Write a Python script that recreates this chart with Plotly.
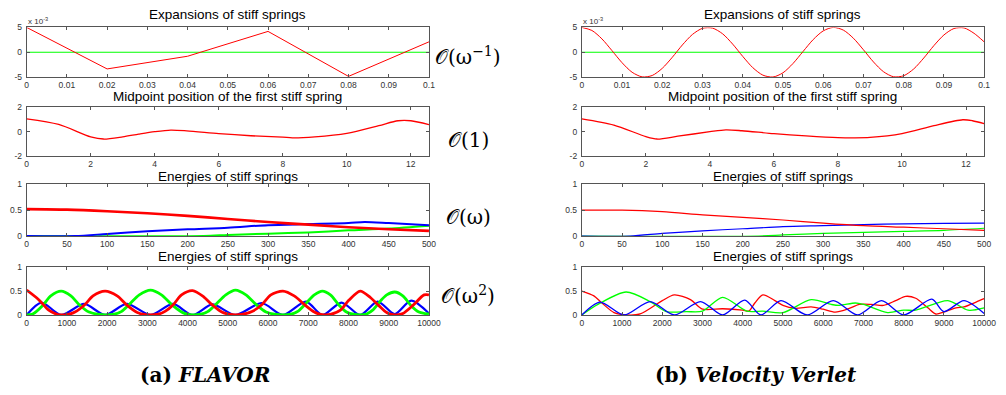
import plotly.graph_objects as go

W, H = 1006, 395

# ---------------- data ----------------
# Row 1: expansions of stiff springs (units of 1e-3)
flavor_exp_t = [0, 0.02, 0.04, 0.06, 0.08, 0.1]
flavor_exp_v = [5.0, -3.35, -0.8, 4.2, -4.85, 2.1]
vv_exp_t = [0, 0.0025, 0.005, 0.0075, 0.01, 0.0125, 0.015, 0.0175, 0.02, 0.0225,
            0.025, 0.0275, 0.03, 0.0325, 0.035, 0.0375, 0.04, 0.0425, 0.045, 0.0475,
            0.05, 0.0525, 0.055, 0.0575, 0.06, 0.0625, 0.065, 0.0675, 0.07, 0.0725,
            0.075, 0.0775, 0.08, 0.0825, 0.085, 0.0875, 0.09, 0.0925, 0.095, 0.0975, 0.1]
vv_exp_v = [5.0, 4.39, 2.69, 0.33, -2.10, -4.02, -4.95, -4.67, -3.23, -1.00,
            1.48, 3.59, 4.82, 4.86, 3.71, 1.64, -0.83, -3.10, -4.60, -4.98,
            -4.13, -2.25, 0.17, 2.55, 4.30, 5.0, 4.46, 2.83, 0.50, -1.95,
            -3.92, -4.93, -4.72, -3.35, -1.15, 1.33, 3.48, 4.78, 4.90, 3.81, 2.1]
zero_line_t = [0, 0.1]
zero_line_v = [0, 0]

# Row 2: midpoint position of the first stiff spring
flavor_mid_t = [0, 1, 2, 2.4, 3, 3.5, 4, 4.5, 5, 6, 7, 8, 8.3, 9, 10, 11, 11.6, 12, 12.566]
flavor_mid_v = [1.06, 0.6, -0.42, -0.6, -0.42, -0.2, 0.0, 0.13, 0.07, -0.15, -0.33,
                -0.45, -0.5, -0.42, -0.13, 0.5, 0.9, 0.9, 0.58]
vv_mid_t = [0, 1, 2, 2.35, 3, 4, 4.5, 5, 6, 7, 8, 8.5, 9, 10, 11, 11.9, 12.2, 12.566]
vv_mid_v = [1.06, 0.55, -0.4, -0.6, -0.37, 0.0, 0.15, 0.08, -0.16, -0.34, -0.48,
            -0.5, -0.47, -0.16, 0.5, 0.98, 0.9, 0.66]

# Row 3: energies, t in [0, 500]
flavor_e3_red_t = [0, 50, 100, 150, 200, 250, 300, 350, 400, 450, 500]
flavor_e3_red = [0.52, 0.51, 0.48, 0.44, 0.39, 0.33, 0.27, 0.22, 0.17, 0.13, 0.1]
flavor_e3_blue_t = [0, 60, 100, 150, 200, 250, 300, 350, 400, 420, 450, 500]
flavor_e3_blue = [0, 0, 0.04, 0.09, 0.13, 0.16, 0.21, 0.23, 0.25, 0.27, 0.25, 0.21]
flavor_e3_green_t = [0, 220, 250, 300, 350, 400, 450, 500]
flavor_e3_green = [0, 0, 0.02, 0.045, 0.07, 0.11, 0.145, 0.2]

vv_e3_red_t = [0, 50, 100, 150, 200, 250, 300, 350, 400, 450, 500]
vv_e3_red = [0.5, 0.5, 0.47, 0.41, 0.36, 0.31, 0.25, 0.2, 0.17, 0.14, 0.11]
vv_e3_blue_t = [0, 60, 100, 150, 200, 250, 300, 350, 400, 450, 500]
vv_e3_blue = [0, 0, 0.05, 0.1, 0.14, 0.18, 0.2, 0.22, 0.235, 0.245, 0.25]
vv_e3_green_t = [0, 220, 250, 300, 350, 400, 450, 500]
vv_e3_green = [0, 0, 0.02, 0.05, 0.07, 0.09, 0.11, 0.15]

# Row 4: energies, t in [0, 10000]
flavor_e4_red_t = [0, 300, 550, 750, 860, 1000, 1200, 1450, 1650, 1950, 2250, 2500, 2750,
                   2950, 3080, 3250, 3450, 3650, 3850, 4125, 4400, 4600, 4850, 5050,
                   5190, 5350, 5600, 5850, 6070, 6370, 6650, 6900, 7150, 7300, 7400,
                   7550, 7800, 8000, 8290, 8550, 8750, 8950, 9100, 9200, 9350, 9600,
                   9880, 10000]
flavor_e4_red = [0.52, 0.32, 0.1, 0.015, 0.0, 0.005, 0.06, 0.22, 0.4, 0.5, 0.4, 0.2,
                 0.05, 0.005, 0.0, 0.01, 0.08, 0.22, 0.42, 0.51, 0.38, 0.22, 0.06,
                 0.01, 0.0, 0.01, 0.07, 0.22, 0.42, 0.5, 0.4, 0.22, 0.06, 0.01, 0.0,
                 0.01, 0.1, 0.3, 0.5, 0.36, 0.2, 0.05, 0.005, 0.0, 0.03, 0.2,
                 0.42, 0.42]
flavor_e4_green_t = [0, 150, 400, 600, 858, 1100, 1300, 1550, 1800, 1950, 2150, 2350,
                     2550, 2800, 3080, 3350, 3600, 3850, 4000, 4125, 4300, 4500, 4700,
                     4950, 5190, 5450, 5700, 5950, 6200, 6370, 6550, 6750, 6950, 7150,
                     7350, 7550, 7750, 7950, 8150, 8290, 8450, 8600, 8800, 8950, 9150,
                     9350, 9550, 9750, 9900, 10000]
flavor_e4_green = [0.0, 0.02, 0.2, 0.4, 0.5, 0.4, 0.22, 0.06, 0.01, 0.0, 0.01, 0.07,
                   0.22, 0.42, 0.52, 0.42, 0.22, 0.06, 0.01, 0.0, 0.01, 0.07, 0.22,
                   0.42, 0.52, 0.42, 0.22, 0.06, 0.01, 0.0, 0.01, 0.08, 0.25, 0.42,
                   0.5, 0.42, 0.22, 0.06, 0.01, 0.0, 0.02, 0.1, 0.3, 0.42, 0.48,
                   0.4, 0.2, 0.06, 0.03, 0.02]
flavor_e4_blue_t = [0, 368, 858, 1430, 1950, 2490, 3080, 3635, 4125, 4615, 5190, 5841,
                    6370, 6944, 7350, 7826, 8290, 8725, 9150, 9559, 10000]
flavor_e4_blue = [0.0, 0.26, 0.0, 0.23, 0.0, 0.23, 0.0, 0.23, 0.0, 0.22, 0.0, 0.25,
                  0.0, 0.28, 0.0, 0.26, 0.0, 0.28, 0.02, 0.3, 0.03]

vv_e4_red_t = [0, 300, 500, 800, 1100, 1450, 2000, 2300, 2700, 3000, 3500, 4000, 4150,
               4300, 4500, 4800, 5000, 5300, 5700, 6000, 6300, 6600, 6900, 7200, 7500,
               7800, 8050, 8300, 8600, 8800, 9000, 9300, 9500, 9800, 10000]
vv_e4_red = [0.5, 0.4, 0.25, 0.05, 0.0, 0.02, 0.3, 0.42, 0.32, 0.12, 0.13, 0.1, 0.08,
             0.25, 0.42, 0.3, 0.2, 0.14, 0.17, 0.12, 0.06, 0.12, 0.22, 0.22, 0.2,
             0.3, 0.39, 0.35, 0.15, 0.02, 0.06, 0.15, 0.17, 0.27, 0.34]
vv_e4_green_t = [0, 400, 1100, 1700, 2100, 2600, 3000, 3500, 4100, 4500, 5000, 5700,
                 6200, 6400, 6800, 7000, 7600, 8000, 8300, 9100, 9600, 10000]
vv_e4_green = [0.0, 0.22, 0.48, 0.28, 0.07, 0.07, 0.08, 0.37, 0.08, 0.08, 0.05, 0.32,
               0.22, 0.2, 0.25, 0.22, 0.05, 0.1, 0.1, 0.3, 0.1, 0.15]
vv_e4_blue_t = [0, 450, 1050, 1700, 2300, 2950, 3500, 4050, 4450, 4950, 5600, 6250,
                6850, 7450, 8000, 8700, 9000, 9500, 10000]
vv_e4_blue = [0.0, 0.27, 0.0, 0.28, 0.0, 0.28, 0.0, 0.31, 0.0, 0.3, 0.0, 0.3,
              0.0, 0.3, 0.0, 0.33, 0.07, 0.3, 0.03]

# ticks
exp_ticks = [0, 0.01, 0.02, 0.03, 0.04, 0.05, 0.06, 0.07, 0.08, 0.09, 0.1]
exp_ticktext = ["0", "0.01", "0.02", "0.03", "0.04", "0.05", "0.06", "0.07", "0.08", "0.09", "0.1"]
mid_ticks = [0, 2, 4, 6, 8, 10, 12]
e3_ticks = [0, 50, 100, 150, 200, 250, 300, 350, 400, 450, 500]
e4_ticks = [0, 1000, 2000, 3000, 4000, 5000, 6000, 7000, 8000, 9000, 10000]
exp_yticks = [-5, 0, 5]
mid_yticks = [-2, 0, 2]
e_yticks = [0, 0.5, 1]
e_yticktext = ["0", "0.5", "1"]

titles = ["Expansions of stiff springs", "Midpoint position of the first stiff spring",
          "Energies of stiff springs", "Energies of stiff springs"]
order_labels = ["𝒪(ω<sup>−1</sup>)", "𝒪(1)", "𝒪(ω)", "𝒪(ω<sup>2</sup>)"]
captions = ["<b>(a) <i>FLAVOR</i></b>", "<b>(b) <i>Velocity Verlet</i></b>"]

RED, GREEN, BLUE = "#ff0000", "#00ff00", "#0000ff"

# ---------------- layout geometry (pixels) ----------------
col_x = [(25, 433), (588, 996)]
row_y = [(23, 74), (105, 155), (184, 237), (269, 318)]
title_y = [10, 94, 175.5, 258]
order_y = [52, 138, 217, 298]

fig = go.Figure()
layout = dict(width=W, height=H, margin=dict(l=0, r=0, t=0, b=0),
              paper_bgcolor="white", plot_bgcolor="white", showlegend=False)

row_cfg = [
    dict(xr=[0, 0.1], xt=exp_ticks, xtt=exp_ticktext, yr=[-5, 5], yt=exp_yticks, ytt=["-5", "0", "5"]),
    dict(xr=[0, 12.566], xt=mid_ticks, xtt=[str(v) for v in mid_ticks], yr=[-2, 2], yt=mid_yticks, ytt=["-2", "0", "2"]),
    dict(xr=[0, 500], xt=e3_ticks, xtt=[str(v) for v in e3_ticks], yr=[0, 1], yt=e_yticks, ytt=e_yticktext),
    dict(xr=[0, 10000], xt=e4_ticks, xtt=[str(v) for v in e4_ticks], yr=[0, 1], yt=e_yticks, ytt=e_yticktext),
]

series = {
    (0, 0): [(zero_line_t, zero_line_v, GREEN, 1.2, "linear"), (flavor_exp_t, flavor_exp_v, RED, 1, "linear")],
    (1, 0): [(zero_line_t, zero_line_v, GREEN, 1.2, "linear"), (vv_exp_t, vv_exp_v, RED, 1, "spline")],
    (0, 1): [(flavor_mid_t, flavor_mid_v, RED, 1.3, "spline")],
    (1, 1): [(vv_mid_t, vv_mid_v, RED, 1.3, "spline")],
    (0, 2): [(flavor_e3_green_t, flavor_e3_green, GREEN, 2, "spline"),
             (flavor_e3_blue_t, flavor_e3_blue, BLUE, 2, "spline"),
             (flavor_e3_red_t, flavor_e3_red, RED, 2.6, "spline")],
    (1, 2): [(vv_e3_green_t, vv_e3_green, GREEN, 1.2, "spline"),
             (vv_e3_blue_t, vv_e3_blue, BLUE, 1.2, "spline"),
             (vv_e3_red_t, vv_e3_red, RED, 1.2, "spline")],
    (0, 3): [(flavor_e4_blue_t, flavor_e4_blue, BLUE, 2.2, "spline"),
             (flavor_e4_green_t, flavor_e4_green, GREEN, 2.8, "spline"),
             (flavor_e4_red_t, flavor_e4_red, RED, 2.8, "spline")],
    (1, 3): [(vv_e4_red_t, vv_e4_red, RED, 1.3, "spline"),
             (vv_e4_green_t, vv_e4_green, GREEN, 1.3, "spline"),
             (vv_e4_blue_t, vv_e4_blue, BLUE, 1.3, "spline")],
}

annotations = []
k = 0
for c in range(2):
    for r in range(4):
        k += 1
        sfx = "" if k == 1 else str(k)
        cfg = row_cfg[r]
        x0, x1 = col_x[c]
        y0, y1 = row_y[r]
        axcommon = dict(showline=True, linecolor="#555", linewidth=1, mirror="ticks",
                        ticks="inside", ticklen=3, tickcolor="#555", showgrid=False,
                        zeroline=False, tickfont=dict(family="Arial, Liberation Sans", size=8.5, color="#333"))
        layout["xaxis" + sfx] = dict(domain=[x0 / W, x1 / W], range=cfg["xr"], tickvals=cfg["xt"],
                                     ticktext=cfg["xtt"], anchor="y" + sfx, ticklabelstandoff=0, **axcommon)
        layout["yaxis" + sfx] = dict(domain=[1 - y1 / H, 1 - y0 / H], range=cfg["yr"], tickvals=cfg["yt"],
                                     ticktext=cfg["ytt"], anchor="x" + sfx, ticklabelstandoff=2, **axcommon)
        for (xs, ys, col, w, shape) in series[(c, r)]:
            fig.add_trace(go.Scatter(x=xs, y=ys, mode="lines", line=dict(color=col, width=w, shape=shape, smoothing=0.8),
                                     xaxis="x" + sfx, yaxis="y" + sfx, hoverinfo="skip", cliponaxis=True))
        annotations.append(dict(text=titles[r], x=(x0 + x1) / 2 / W, y=1 - title_y[r] / H, xref="paper", yref="paper",
                                xanchor="center", yanchor="middle", showarrow=False,
                                font=dict(family="Arial, Liberation Sans", size=13.5, color="black")))
    annotations.append(dict(text="x 10<sup>-3</sup>", x=(col_x[c][0] - 1) / W, y=1 - 16 / H, xref="paper", yref="paper",
                            xanchor="left", yanchor="middle", showarrow=False,
                            font=dict(family="Arial, Liberation Sans", size=8, color="#333")))

for r in range(4):
    annotations.append(dict(text=order_labels[r], x=473 / W, y=1 - order_y[r] / H, xref="paper", yref="paper",
                            xanchor="center", yanchor="middle", showarrow=False,
                            font=dict(family="DejaVu Serif, Liberation Serif", size=20, color="black")))

cap_x = [206, 765]
for c in range(2):
    annotations.append(dict(text=captions[c], x=cap_x[c] / W, y=1 - 380 / H, xref="paper", yref="paper",
                            xanchor="center", yanchor="middle", showarrow=False,
                            font=dict(family="DejaVu Serif, Liberation Serif", size=20, color="black")))

layout["annotations"] = annotations
fig.update_layout(**layout)
fig.write_html("out.html")
